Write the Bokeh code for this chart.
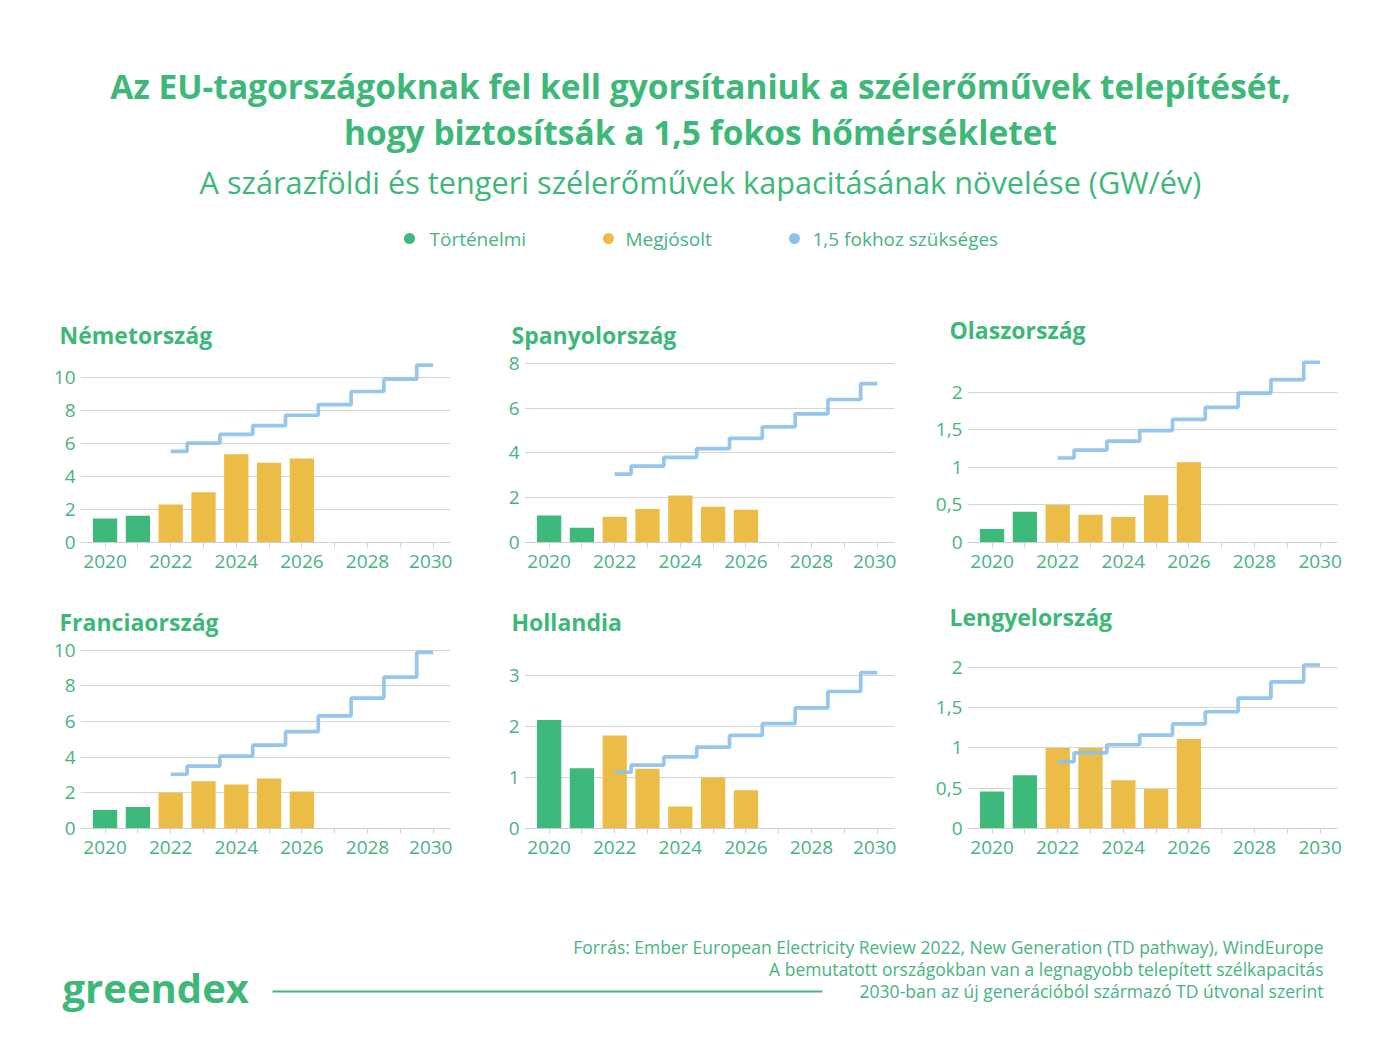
from bokeh.plotting import figure
from bokeh.layouts import column, row
from bokeh.models import Range1d, FixedTicker, CustomJSTickFormatter
from bokeh.embed import file_html
from bokeh.resources import INLINE
from bokeh.core.properties import value

FONT = "Open Sans"
TITLE_GREEN = "#3db879"
TEXT_GREEN = "#47b47f"
BAR_GREEN = "#3db97b"
YELLOW = "#ebbd46"
BLUE = "#8dc1e9"
GRID = "#d5d5d5"

# ---------------- data ----------------
title_lines = [
    "Az EU-tagországoknak fel kell gyorsítaniuk a szélerőművek telepítését,",
    "hogy biztosítsák a 1,5 fokos hőmérsékletet",
]
subtitle = "A szárazföldi és tengeri szélerőművek kapacitásának növelése (GW/év)"
legend_labels = ["Történelmi", "Megjósolt", "1,5 fokhoz szükséges"]
source_lines = [
    "Forrás: Ember European Electricity Review 2022, New Generation (TD pathway), WindEurope",
    "A bemutatott országokban van a legnagyobb telepített szélkapacitás",
    "2030-ban az új generációból származó TD útvonal szerint",
]
logo_text = "greendex"

countries = ["Németország", "Spanyolország", "Olaszország",
             "Franciaország", "Hollandia", "Lengyelország"]
hist_years = [2020, 2021]
forecast_years = [2022, 2023, 2024, 2025, 2026]
path_years = [2022, 2023, 2024, 2025, 2026, 2027, 2028, 2029, 2030]
tick_years = [2020, 2021, 2022, 2023, 2024, 2025, 2026, 2027, 2028, 2029, 2030]

de_hist = [1.46, 1.62]
de_forecast = [2.31, 3.04, 5.35, 4.83, 5.09]
de_path = [5.52, 6.02, 6.55, 7.08, 7.71, 8.36, 9.15, 9.90, 10.75]

es_hist = [1.21, 0.66]
es_forecast = [1.15, 1.50, 2.10, 1.59, 1.46]
es_path = [3.05, 3.41, 3.80, 4.19, 4.65, 5.16, 5.74, 6.38, 7.09]

it_hist = [0.18, 0.41]
it_forecast = [0.50, 0.37, 0.34, 0.63, 1.07]
it_path = [1.125, 1.23, 1.35, 1.49, 1.64, 1.80, 1.99, 2.17, 2.40]

fr_hist = [1.04, 1.20]
fr_forecast = [2.00, 2.65, 2.46, 2.80, 2.07]
fr_path = [3.04, 3.50, 4.06, 4.67, 5.43, 6.31, 7.31, 8.48, 9.87]

nl_hist = [2.12, 1.18]
nl_forecast = [1.82, 1.17, 0.43, 1.00, 0.75]
nl_path = [1.10, 1.24, 1.40, 1.59, 1.82, 2.05, 2.36, 2.68, 3.05]

pl_hist = [0.46, 0.66]
pl_forecast = [1.00, 1.00, 0.60, 0.49, 1.11]
pl_path = [0.83, 0.94, 1.04, 1.16, 1.30, 1.45, 1.62, 1.82, 2.03]

de_ticks = [0, 2, 4, 6, 8, 10]
es_ticks = [0, 2, 4, 6, 8]
it_ticks = [0, 0.5, 1, 1.5, 2]
fr_ticks = [0, 2, 4, 6, 8, 10]
nl_ticks = [0, 1, 2, 3]
pl_ticks = [0, 0.5, 1, 1.5, 2]

# ---------------- layout constants ----------------
HEADER_H = 298
ROW_H = 287
FOOTER_H = 176
FRAME_H = 184
COL_W = [452, 444, 500]
COL_LEFT = [80, 72, 71]
COL_RIGHT = [2, 2, 59]
W = sum(COL_W)


def panel(name, hist, fc, path, yticks, ymax, col, top, bottom,
          title_offset, title_standoff):
    p = figure(width=COL_W[col], height=top + FRAME_H + bottom,
               x_range=Range1d(2019.25, 2030.53), y_range=Range1d(0, ymax),
               output_backend="svg", toolbar_location=None,
               min_border_left=COL_LEFT[col], min_border_right=COL_RIGHT[col],
               min_border_top=top, min_border_bottom=bottom)
    p.outline_line_color = None
    p.background_fill_color = "white"
    p.border_fill_color = "white"
    p.xgrid.grid_line_color = None
    p.ygrid.grid_line_color = GRID
    p.ygrid.grid_line_width = 1

    p.title.text = name
    p.title.text_font = FONT
    p.title.text_font_size = "23px"
    p.title.text_font_style = "bold"
    p.title.text_color = TITLE_GREEN
    p.title.align = "left"
    p.title.offset = title_offset
    p.title.standoff = title_standoff

    xa = p.xaxis[0]
    xa.ticker = FixedTicker(ticks=tick_years)
    xa.formatter = CustomJSTickFormatter(
        code="const t = Math.round(tick); return (t % 2 === 0) ? String(t) : '';")
    xa.axis_line_color = "#cfcfcf"
    xa.major_tick_line_color = "#cfcfcf"
    xa.major_tick_out = 5
    xa.major_tick_in = 0
    xa.minor_tick_line_color = None
    xa.major_label_text_font = FONT
    xa.major_label_text_font_size = "19px"
    xa.major_label_text_color = TEXT_GREEN
    xa.major_label_standoff = 7

    ya = p.yaxis[0]
    ya.ticker = FixedTicker(ticks=yticks)
    ya.formatter = CustomJSTickFormatter(code="return String(tick).replace('.', ',');")
    ya.axis_line_color = None
    ya.major_tick_line_color = None
    ya.minor_tick_line_color = None
    ya.major_tick_out = 0
    ya.major_tick_in = 0
    ya.major_label_text_font = FONT
    ya.major_label_text_font_size = "19px"
    ya.major_label_text_color = TEXT_GREEN
    ya.major_label_standoff = 5

    p.vbar(x=hist_years, top=hist, width=0.74, color=BAR_GREEN, line_color=None)
    p.vbar(x=forecast_years, top=fc, width=0.74, color=YELLOW, line_color=None)
    p.step(x=path_years, y=path, mode="center", line_color=BLUE, line_width=3.7,
           line_alpha=0.92)
    return p


# header (data coordinates = page pixels)
header = figure(width=W, height=HEADER_H, x_range=Range1d(0, W), y_range=Range1d(HEADER_H, 0),
                x_axis_type=None, y_axis_type=None, min_border=0,
                output_backend="svg", toolbar_location=None)
header.outline_line_color = None
header.grid.grid_line_color = None
header.text(x=[700, 700], y=[85, 131], text=title_lines, text_align="center",
            text_baseline="middle", text_font=value(FONT), text_font_size="33.5px",
            text_font_style="bold", text_color=TITLE_GREEN)
header.text(x=[700], y=[181], text=[subtitle], text_align="center",
            text_baseline="middle", text_font=value(FONT), text_font_size="30.7px",
            text_color=TITLE_GREEN)
header.scatter(x=[409, 608, 794], y=[238, 238, 238], size=11,
               color=[BAR_GREEN, YELLOW, BLUE], line_color=None)
header.text(x=[429, 625, 812], y=[238, 238, 238], text=legend_labels,
            text_align="left", text_baseline="middle", text_font=value(FONT),
            text_font_size="19px", text_color=TEXT_GREEN)

# panels: row 1 frame 358..542, row 2 frame 644..828
p1 = panel(countries[0], de_hist, de_forecast, de_path, de_ticks, 11.15, 0, 60, 43, -21, 16)
p2 = panel(countries[1], es_hist, es_forecast, es_path, es_ticks, 8.21, 1, 60, 43, -13, 16)
p3 = panel(countries[2], it_hist, it_forecast, it_path, it_ticks, 2.45, 2, 60, 43, -18, 25)
p4 = panel(countries[3], fr_hist, fr_forecast, fr_path, fr_ticks, 10.2, 0, 59, 44, -21, 18)
p5 = panel(countries[4], nl_hist, nl_forecast, nl_path, nl_ticks, 3.56, 1, 59, 44, -13, 18)
p6 = panel(countries[5], pl_hist, pl_forecast, pl_path, pl_ticks, 2.26, 2, 59, 44, -18, 27)

# footer (data coordinates = page pixels)
Y0 = HEADER_H + 2 * ROW_H
footer = figure(width=W, height=FOOTER_H, x_range=Range1d(0, W),
                y_range=Range1d(Y0 + FOOTER_H, Y0),
                x_axis_type=None, y_axis_type=None, min_border=0,
                output_backend="svg", toolbar_location=None)
footer.outline_line_color = None
footer.grid.grid_line_color = None
footer.text(x=[1323, 1323, 1323], y=[946, 968, 990], text=source_lines,
            text_align="right", text_baseline="middle", text_font=value(FONT),
            text_font_size="17.5px", text_color=TEXT_GREEN)
footer.text(x=[62], y=[987], text=[logo_text], text_align="left",
            text_baseline="middle", text_font=value(FONT), text_font_size="40px",
            text_font_style="bold", text_color=TITLE_GREEN)
footer.segment(x0=[272], y0=[991], x1=[822], y1=[991], line_color=TITLE_GREEN,
               line_width=2)

layout = column(header, row(p1, p2, p3), row(p4, p5, p6), footer)
open("out.html", "w").write(file_html(layout, INLINE))
